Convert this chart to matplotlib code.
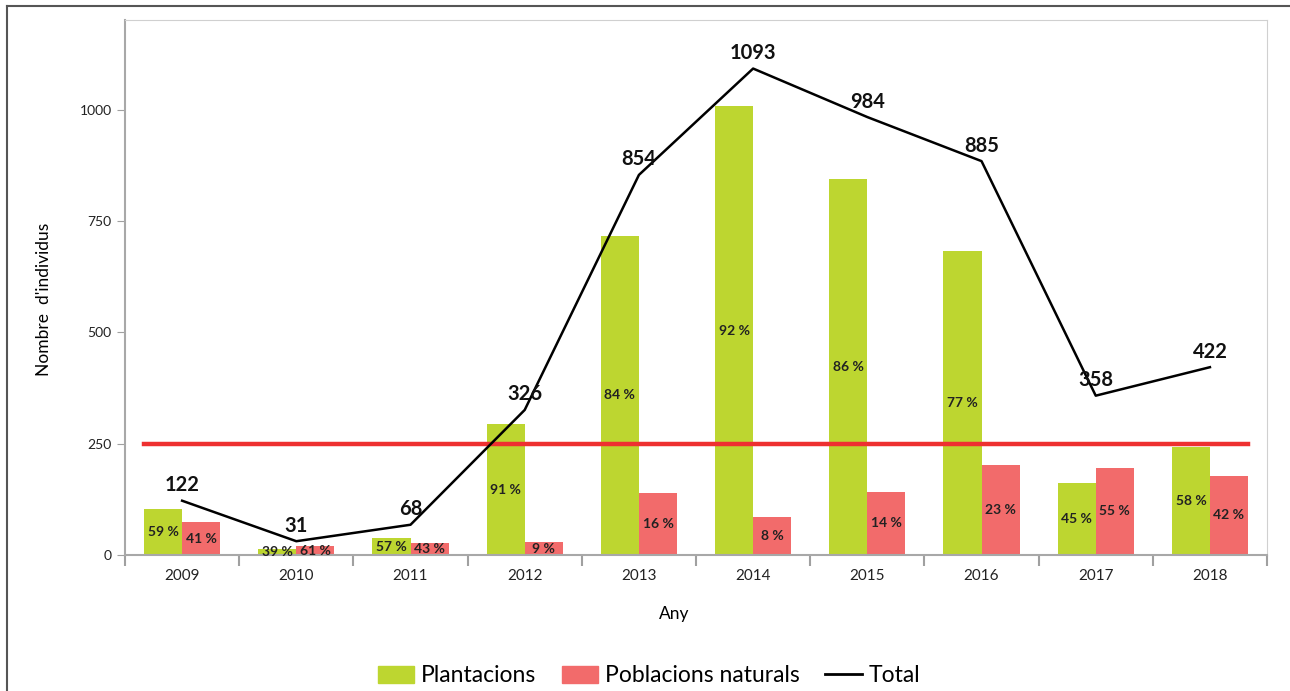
import numpy as np
import matplotlib.pyplot as plt
from matplotlib.lines import Line2D
from matplotlib.patches import Patch

plt.rcParams['font.family'] = ['Lato', 'DejaVu Sans']

# --- dades ---
anys = ['2009', '2010', '2011', '2012', '2013', '2014', '2015', '2016', '2017', '2018']
plantacions = [103, 13, 38, 294, 717, 1008, 845, 683, 162, 243]
naturals = [74, 20, 27, 29, 139, 85, 142, 202, 196, 178]
total = [122, 31, 68, 326, 854, 1093, 984, 885, 358, 422]
pct_plant = ['59 %', '39 %', '57 %', '91 %', '84 %', '92 %', '86 %', '77 %', '45 %', '58 %']
pct_nat = ['41 %', '61 %', '43 %', '9 %', '16 %', '8 %', '14 %', '23 %', '55 %', '42 %']
llindar = 250

verd = '#bdd630'
vermell = '#f26b6b'

fig = plt.figure(figsize=(12.9, 6.91), dpi=100)
ax = fig.add_axes([0.0969, 0.1968, 0.8853, 0.7742])

x = np.arange(len(anys))
w = 1 / 3
ax.bar(x - w / 2, plantacions, w, color=verd, zorder=2)
ax.bar(x + w / 2, naturals, w, color=vermell, zorder=2)

# percentatges dins les barres
for i in range(len(anys)):
    ax.text(x[i] - w / 2, max(plantacions[i], 12) / 2, pct_plant[i], ha='center', va='center',
            fontsize=10, fontweight='bold', color='#222222', zorder=5)
    ax.text(x[i] + w / 2, max(naturals[i], 12) / 2, pct_nat[i], ha='center', va='center',
            fontsize=10, fontweight='bold', color='#222222', zorder=5)

# llindar
ax.plot([x[0] - w, x[-1] + w], [llindar, llindar], color='#ee3030', lw=3.2, zorder=3)

# total
ax.plot(x, total, color='black', lw=1.8, zorder=4)
for i in range(len(anys)):
    ax.annotate(str(total[i]), (x[i], total[i]), xytext=(0, 4), textcoords='offset points',
                ha='center', va='bottom', fontsize=14.5, fontweight='bold', color='#111111', zorder=6)

ax.set_xlim(-0.5, len(anys) - 0.5)
ax.set_ylim(0, 1202)
ax.set_yticks([0, 250, 500, 750, 1000])
ax.tick_params(axis='y', labelsize=10, length=6, color='#a0a0a0', labelcolor='#222222')
ax.set_xticks(x)
ax.set_xticklabels(anys)
ax.tick_params(axis='x', length=0, labelsize=11, labelcolor='#222222', pad=10)
ax.set_xticks(np.arange(len(anys) + 1) - 0.5, minor=True)
ax.tick_params(axis='x', which='minor', length=8, color='#a0a0a0', width=1.5)

for s in ['top', 'right']:
    ax.spines[s].set_color('#d0d0d0')
for s in ['left', 'bottom']:
    ax.spines[s].set_color('#a8a8a8')
    ax.spines[s].set_linewidth(1.5)

ax.set_ylabel("Nombre  d'individus", fontsize=12.5)
ax.yaxis.set_label_coords(-0.064, 0.477)
ax.set_xlabel('Any', fontsize=12.5)
ax.xaxis.set_label_coords(0.481, -0.095)

handles = [Patch(color=verd), Patch(color=vermell), Line2D([], [], color='black', lw=2)]
fig.legend(handles, ['Plantacions', 'Poblacions naturals', 'Total'], loc='center',
           bbox_to_anchor=(0.503, 0.022), ncol=3, frameon=False, fontsize=16.5,
           handlelength=1.6, handleheight=0.75, columnspacing=1.1, handletextpad=0.3)

# marc exterior
fig.add_artist(Line2D([0.0054, 1], [0.9913, 0.9913], color='#555555', lw=1.5))
fig.add_artist(Line2D([0.0054, 0.0054], [0, 0.9913], color='#555555', lw=1.5))

fig.savefig('out.png', dpi=100)
